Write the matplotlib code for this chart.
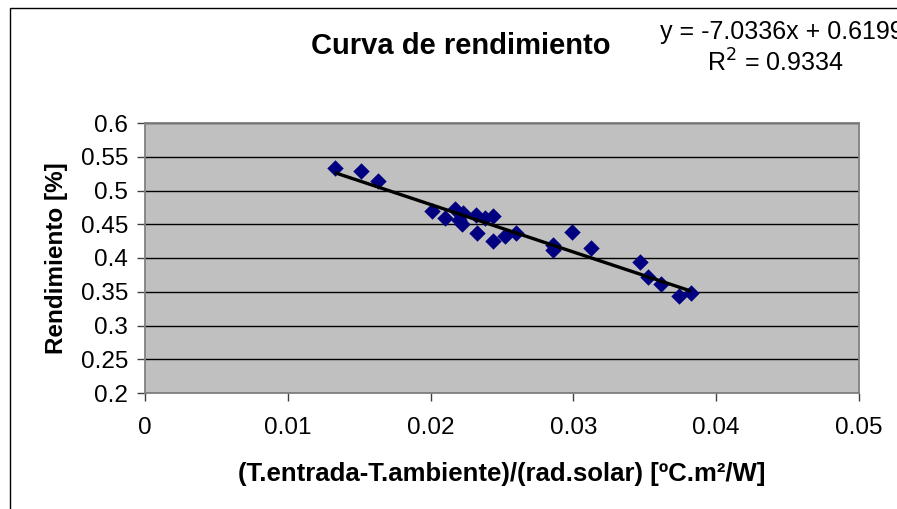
import matplotlib
matplotlib.use("Agg")
import matplotlib.pyplot as plt
import numpy as np
from matplotlib.patches import Rectangle

plt.rcParams['font.family'] = ['Liberation Sans', 'DejaVu Sans']

# Data
x_vals = [0.01329, 0.01510, 0.01629, 0.02007, 0.02098, 0.02168, 0.02196, 0.02220,
          0.02230, 0.02322, 0.02315, 0.02380, 0.02440, 0.02440, 0.02520, 0.02600,
          0.02860, 0.02860, 0.02990, 0.03126, 0.03469, 0.03524, 0.03610, 0.03740,
          0.03825]
y_vals = [0.5333, 0.5289, 0.5140, 0.4696, 0.4590, 0.4726, 0.4563, 0.4500,
          0.4667, 0.4370, 0.4637, 0.4590, 0.4620, 0.4252, 0.4326, 0.4370,
          0.4190, 0.4120, 0.4385, 0.4148, 0.3940, 0.3719, 0.3615, 0.3437,
          0.3481]
slope = -7.0336
intercept = 0.6199
r2 = 0.9334

x_ticks = [0, 0.01, 0.02, 0.03, 0.04, 0.05]
x_ticklabels = ['0', '0.01', '0.02', '0.03', '0.04', '0.05']
y_ticks = [0.2, 0.25, 0.3, 0.35, 0.4, 0.45, 0.5, 0.55, 0.6]
y_ticklabels = ['0.2', '0.25', '0.3', '0.35', '0.4', '0.45', '0.5', '0.55', '0.6']

W, H = 897, 509
fig = plt.figure(figsize=(W / 100, H / 100), dpi=100)
fig.patch.set_facecolor('white')

# chart outer border
fig.add_artist(Rectangle((10 / W, -0.05), 1.2, (H - 7.5) / H + 0.05, transform=fig.transFigure,
                         fill=False, edgecolor='black', linewidth=1.0))

ax = fig.add_axes([145 / W, 1 - 393 / H, (859 - 145) / W, (393 - 123) / H])
ax.set_facecolor('#C0C0C0')
ax.set_xlim(0, 0.05)
ax.set_ylim(0.2, 0.6)
ax.set_xticks(x_ticks)
ax.set_xticklabels(x_ticklabels)
ax.set_yticks(y_ticks)
ax.set_yticklabels(y_ticklabels)
ax.yaxis.grid(True, color='black', linewidth=1.0)
ax.set_axisbelow(True)
for s in ax.spines.values():
    s.set_color('#808080')
    s.set_linewidth(1.3)
ax.tick_params(axis='both', direction='out', length=6, width=1, color='#404040',
               labelsize=17.5)
ax.tick_params(axis='x', pad=11)
ax.tick_params(axis='y', pad=6)

ax.scatter(x_vals, y_vals, marker='D', s=70, color='#000080', zorder=3, linewidths=0)

xs = np.array([min(x_vals), max(x_vals)])
ax.plot(xs, slope * xs + intercept, color='black', linewidth=2.4, zorder=4,
        solid_capstyle='butt')

ax.set_xlabel('(T.entrada-T.ambiente)/(rad.solar) [ºC.m²/W]', fontsize=18.5,
              fontweight='bold', labelpad=17)
ax.set_ylabel('Rendimiento [%]', fontsize=17.5, fontweight='bold', labelpad=9)

fig.text(461 / W, 1 - 46 / H, 'Curva de rendimiento', fontsize=21, fontweight='bold',
         ha='center', va='center')
fig.text(660 / W, 1 - 32 / H, 'y = -7.0336x + 0.6199', fontsize=18, ha='left', va='center')
fig.text(775 / W, 1 - 63 / H, 'R$^2$ = 0.9334', fontsize=18, ha='center', va='center')

fig.savefig('out.png', dpi=100)
